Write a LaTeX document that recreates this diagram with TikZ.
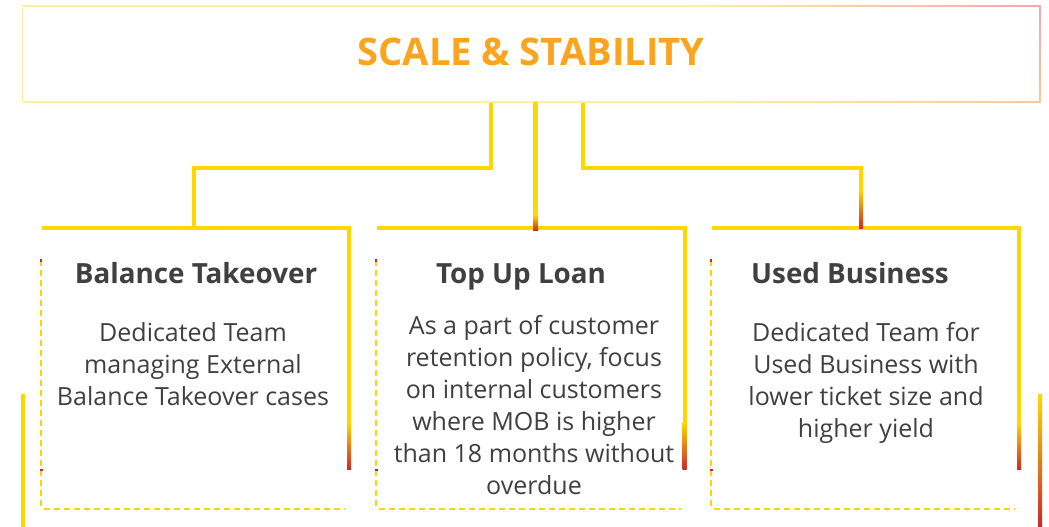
\documentclass[tikz,border=0pt]{standalone}
\usepackage{fontspec}
\setmainfont{Open Sans}
\usetikzlibrary{calc}
\definecolor{gold}{HTML}{FFD700}
\definecolor{rd}{HTML}{C8282C}
\definecolor{org}{HTML}{F08A1C}
\definecolor{ttl}{HTML}{FBA41F}
\definecolor{txt}{HTML}{404040}
\definecolor{ylight}{HTML}{FFF0A0}
\definecolor{pinkish}{HTML}{F2A7B0}
\definecolor{peach}{HTML}{F8C8A0}
\pgfdeclarehorizontalshading{bordtop}{100bp}{color(0bp)=(ylight); color(25bp)=(ylight); color(58bp)=(ylight); color(75bp)=(pinkish); color(100bp)=(pinkish)}
\pgfdeclarehorizontalshading{bordbot}{100bp}{color(0bp)=(ylight); color(25bp)=(ylight); color(58bp)=(ylight); color(75bp)=(peach); color(100bp)=(peach)}
\tikzset{
  conn/.style={draw=gold, line width=4pt, line join=miter},
  topline/.style={draw=gold, line width=4pt},
  dashline/.style={draw=gold, line width=2pt, dash pattern=on 6pt off 4pt},
  head/.style={font=\fontsize{27.8}{32}\selectfont\bfseries, text=txt, inner sep=0pt},
  body/.style={font=\fontsize{25}{32}\selectfont, text=txt, align=center, inner sep=0pt},
  boxnode/.style={minimum width=307pt, minimum height=281pt, inner sep=0pt}
}
\begin{document}
\begin{tikzpicture}[x=1pt,y=-1pt]
\useasboundingbox (0,0) rectangle (1049,527);
\fill[white] (0,0) rectangle (1049,527);

% top box
\node[minimum width=1017pt, minimum height=96pt, inner sep=0pt] (top) at (531.5,54) {};
\shade[shading=bordtop] ($(top.north west)+(0,-0.6)$) rectangle ($(top.north east)+(0,0.6)$);
\shade[shading=bordbot] ($(top.south west)+(0,-0.6)$) rectangle ($(top.south east)+(0,0.6)$);
\fill[ylight] ($(top.north west)+(-0.6,0)$) rectangle ($(top.south west)+(0.6,0)$);
\shade[top color=pinkish, bottom color=peach] ($(top.north east)+(-0.6,0)$) rectangle ($(top.south east)+(0.6,0)$);
\node[font=\fontsize{38}{46}\selectfont\bfseries, text=ttl] (title) at (531,52) {SCALE \& STABILITY};

% boxes
\node[boxnode] (b1) at (195.5,368.5) {};
\node[boxnode] (b2) at (531,368.5) {};
\node[boxnode] (b3) at (865.5,368.5) {};

\foreach \b in {b1,b2,b3} {
  \draw[topline] (\b.north west) -- ($(\b.north east)+(2,0)$);
  \fill[gold] ($(\b.north east)+(-2,-2)$) rectangle ($(\b.north east)+(2,195)$);
  \shade[top color=gold, middle color=org, bottom color=rd] ($(\b.north east)+(-2,195)$) rectangle ($(\b.north east)+(2,242)$);
  \draw[dashline] ($(\b.north west)+(-1,32)$) -- ($(\b.south west)+(-1,0)$);
  \draw[dashline] ($(\b.south west)+(2,0)$) -- ($(\b.south east)+(-4,0)$);
  \fill[rd] ($(\b.north west)+(-2,31)$) rectangle ($(\b.north west)+(0,34)$);
  \fill[rd] ($(\b.north west)+(-2,241)$) rectangle ($(\b.north west)+(1,243)$);
}

% connectors
\draw[conn] ($(top.south)+(-40.5,1)$) |- ($(b1.north)+(-1.8,-60)$) -- ($(b1.north)+(-1.8,0)$);
\fill[gold] ($(top.south)+(1.7,0)$) rectangle ($(top.south)+(6.7,113)$);
\shade[top color=gold, middle color=org, bottom color=rd] ($(top.south)+(1.7,113)$) rectangle ($(top.south)+(6.7,128)$);
\draw[conn] ($(top.south)+(51,1)$) |- ($(b3.north)+(-4.5,-60)$) -- ($(b3.north)+(-4.5,-38)$);
\shade[top color=gold, middle color=org, bottom color=rd] ($(b3.north)+(-6.5,-38)$) rectangle ($(b3.north)+(-2.5,1)$);

% outer side lines
\fill[gold] (20.7,394) rectangle (24.7,527);
\shade[top color=gold, middle color=org, bottom color=rd] (1038,394) rectangle (1042,527);

% texts
\node[head, anchor=base] (h1) at (196,283) {Balance Takeover};
\node[head, anchor=base] (h2) at (521,283) {Top Up Loan};
\node[head, anchor=base] (h3) at (850,283) {Used Business};
\node[body, anchor=north] (t1) at (193,322) {Dedicated Team\\managing External\\Balance Takeover cases};
\node[body, anchor=north] (t2) at (534,315) {As a part of customer\\retention policy, focus\\on internal customers\\where MOB is higher\\than 18 months without\\overdue};
\node[body, anchor=north] (t3) at (866,322) {Dedicated Team for\\Used Business with\\lower ticket size and\\higher yield};
\end{tikzpicture}
\end{document}
